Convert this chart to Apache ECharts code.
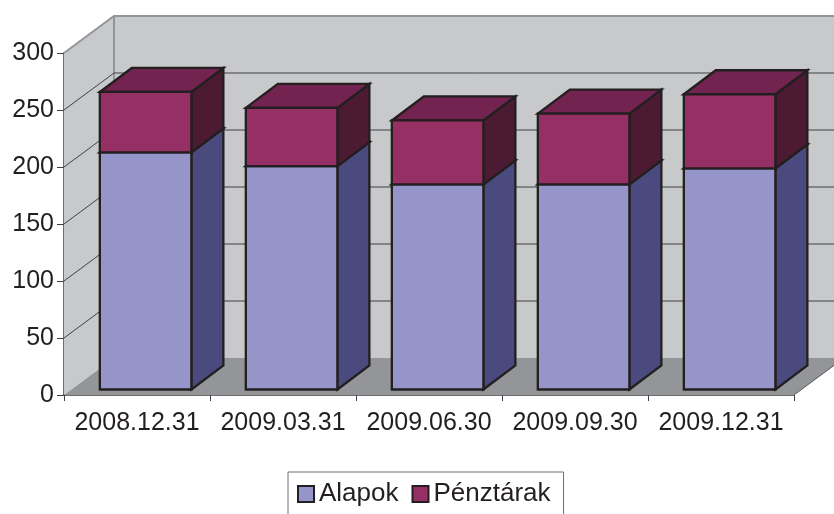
<!DOCTYPE html>
<html>
<head>
<meta charset="utf-8">
<style>
  html, body { margin: 0; padding: 0; background: #fff; }
  #chart { width: 834px; height: 514px; }
</style>
<script src="https://cdn.jsdelivr.net/npm/echarts@6/dist/echarts.min.js"></script>
</head>
<body>
<div id="chart"></div>
<script>
var categories = ['2008.12.31', '2009.03.31', '2009.06.30', '2009.09.30', '2009.12.31'];
var alapok = [208, 196, 180, 180, 194];
var penztarak = [53, 51, 56, 62, 65];
var yTicks = [50, 100, 150, 200, 250];

// 3d look: wall depth, and how far the bars sit from the front edge
var wallDx = 50, wallDy = -37;
var barDx = 32, barDy = -24;
var barShiftX = 8.6, barShiftY = -5.5;
var barRatio = 0.627;

var inkColor = '#231f20';

function poly(points, fill, stroke, lineWidth) {
  return {
    type: 'polygon',
    shape: { points: points },
    style: { fill: fill, stroke: stroke || null, lineWidth: lineWidth || 0, lineJoin: 'miter' }
  };
}

function wallItem(params, api) {
  var p0 = api.coord([0, 0]);
  var p1 = api.coord([0, 300]);
  var left = params.coordSys.x;
  var right = left + params.coordSys.width;
  var y0 = p0[1], y1 = p1[1];
  return {
    type: 'group',
    children: [
      poly([[left + wallDx, y1 + wallDy], [right + wallDx, y1 + wallDy], [right + wallDx, y0 + wallDy], [left + wallDx, y0 + wallDy]], '#c8c9cb'),
      poly([[left, y1], [left + wallDx, y1 + wallDy], [left + wallDx, y0 + wallDy], [left, y0]], '#c8c9cb'),
      poly([[left, y0], [left + wallDx, y0 + wallDy], [right + wallDx, y0 + wallDy], [right, y0]], '#939598'),
      { type: 'polyline', shape: { points: [[left, y1], [left + wallDx, y1 + wallDy], [right + wallDx, y1 + wallDy]] }, style: { fill: null, stroke: '#939598', lineWidth: 2 } },
      { type: 'line', shape: { x1: left + wallDx, y1: y1 + wallDy, x2: left + wallDx, y2: y0 + wallDy }, style: { stroke: '#939598', lineWidth: 2 } },
      { type: 'line', shape: { x1: right, y1: y0, x2: right + wallDx, y2: y0 + wallDy }, style: { stroke: '#58595b', lineWidth: 1 } }
    ]
  };
}

function gridItem(params, api) {
  var y = api.coord([0, api.value(1)])[1];
  var left = params.coordSys.x;
  var right = left + params.coordSys.width;
  return {
    type: 'polyline',
    shape: { points: [[left, y], [left + wallDx, y + wallDy], [right + wallDx, y + wallDy]] },
    style: { fill: null, stroke: '#414042', lineWidth: 1 }
  };
}

function barRenderer(front, side, top) {
  return function(params, api) {
    var bottom = api.coord([api.value(0), api.value(1)]);
    var upper = api.coord([api.value(0), api.value(2)]);
    var w = api.size([1, 0])[0] * barRatio;
    var x0 = bottom[0] + barShiftX - w / 2;
    var x1 = x0 + w;
    var yb = bottom[1] + barShiftY;
    var yt = upper[1] + barShiftY;
    return {
      type: 'group',
      children: [
        poly([[x1, yb], [x1 + barDx, yb + barDy], [x1 + barDx, yt + barDy], [x1, yt]], side, inkColor, 2.3),
        poly([[x0, yt], [x0 + barDx, yt + barDy], [x1 + barDx, yt + barDy], [x1, yt]], top, inkColor, 2.3),
        poly([[x0, yb], [x1, yb], [x1, yt], [x0, yt]], front, inkColor, 2.3)
      ]
    };
  };
}

var alapokData = categories.map(function(c, i) { return [i, 0, alapok[i]]; });
var penztarakData = categories.map(function(c, i) { return [i, alapok[i], alapok[i] + penztarak[i]]; });

var chart = echarts.init(document.getElementById('chart'), null, { renderer: 'canvas' });
chart.setOption({
  animation: false,
  backgroundColor: '#fff',
  textStyle: { fontFamily: '"Liberation Sans", Arial, sans-serif' },
  grid: { left: 64, right: 40, top: 53, bottom: 119 },
  legend: {
    left: 288,
    top: 472,
    padding: [9, 13, 30, 9],
    itemWidth: 16,
    itemHeight: 16,
    itemGap: 13,
    borderColor: '#6d6e71',
    borderWidth: 1,
    selectedMode: false,
    textStyle: { color: inkColor, fontSize: 26, fontFamily: '"Liberation Sans", Arial, sans-serif' },
    data: [
      { name: 'Alapok', icon: 'rect', itemStyle: { color: '#9595c9', borderColor: inkColor, borderWidth: 2 } },
      { name: 'Pénztárak', icon: 'rect', itemStyle: { color: '#962f63', borderColor: inkColor, borderWidth: 2 } }
    ]
  },
  xAxis: {
    type: 'category',
    data: categories,
    axisLine: { lineStyle: { color: '#414042', width: 1.5 } },
    axisTick: { show: true, length: 6, alignWithLabel: false, lineStyle: { color: '#414042' } },
    axisLabel: { color: inkColor, fontSize: 25, margin: 16, interval: 0 },
    splitLine: { show: false }
  },
  yAxis: {
    type: 'value',
    min: 0,
    max: 300,
    interval: 50,
    axisLine: { show: true, lineStyle: { color: '#414042', width: 1.5 } },
    axisTick: { show: true, length: 7, lineStyle: { color: '#414042' } },
    axisLabel: { color: inkColor, fontSize: 25, margin: 10 },
    splitLine: { show: false }
  },
  series: [
    { name: 'walls', type: 'custom', renderItem: wallItem, data: [[0, 0]], silent: true, clip: false, z: 1 },
    { name: 'gridlines', type: 'custom', renderItem: gridItem, data: yTicks.map(function(t) { return [0, t]; }), silent: true, clip: false, z: 2 },
    {
      name: 'Alapok', type: 'custom', clip: false, z: 3,
      renderItem: barRenderer('#9595c9', '#4b4a7f', '#6f6fa5'),
      encode: { x: 0, y: [1, 2] },
      itemStyle: { color: '#9595c9' },
      data: alapokData
    },
    {
      name: 'Pénztárak', type: 'custom', clip: false, z: 4,
      renderItem: barRenderer('#962f63', '#4c1a33', '#722350'),
      encode: { x: 0, y: [1, 2] },
      itemStyle: { color: '#962f63' },
      data: penztarakData
    }
  ]
});
</script>
</body>
</html>
